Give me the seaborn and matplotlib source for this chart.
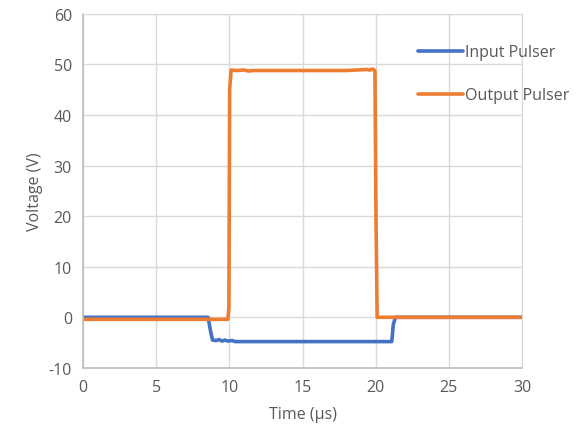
import pandas as pd
import matplotlib.pyplot as plt
import seaborn as sns

# Input pulser trace (time in us, voltage in V)
input_time = [0.0, 2.0, 5.0, 8.55, 8.7, 8.85, 9.1, 9.3, 9.5, 9.7, 9.9, 10.2, 10.4, 12.0, 15.0, 18.0, 21.1, 21.2, 21.35, 25.0, 30.0]
input_volt = [0.0, 0.0, 0.0, 0.0, -2.5, -4.5, -4.6, -4.4, -4.7, -4.5, -4.7, -4.6, -4.8, -4.8, -4.8, -4.8, -4.8, -1.5, 0.0, 0.0, 0.0]

# Output pulser trace
output_time = [0.0, 3.0, 6.0, 9.9, 9.97, 10.02, 10.12, 10.5, 11.0, 11.3, 11.6, 12.0, 15.0, 18.0, 19.4, 19.6, 19.8, 19.95, 20.02, 20.1, 25.0, 30.0]
output_volt = [-0.4, -0.4, -0.4, -0.4, 2.0, 45.0, 48.9, 48.8, 48.9, 48.7, 48.8, 48.8, 48.8, 48.8, 49.0, 48.9, 49.1, 48.7, 20.0, 0.0, 0.0, 0.0]

df = pd.concat([
    pd.DataFrame({"Time": input_time, "Voltage": input_volt, "series": "Input Pulser"}),
    pd.DataFrame({"Time": output_time, "Voltage": output_volt, "series": "Output Pulser"}),
], ignore_index=True)

sns.set_style("white")
plt.rcParams["font.family"] = ["Open Sans", "DejaVu Sans"]
plt.rcParams["axes.unicode_minus"] = False

fig = plt.figure(figsize=(5.87, 4.35), dpi=100)
ax = fig.add_axes([0.1414, 0.152, 0.7479, 0.8138])

sns.lineplot(data=df, x="Time", y="Voltage", hue="series", estimator=None, sort=False,
             palette={"Input Pulser": "#4472C4", "Output Pulser": "#ED7D31"},
             linewidth=2.6, ax=ax)

ax.set_xlim(0, 30)
ax.set_ylim(-10, 60)
ax.set_xticks(range(0, 31, 5))
ax.set_yticks(range(-10, 61, 10))
ax.grid(True, color="#D9D9D9", linewidth=1)
ax.set_axisbelow(True)
for side in ["top", "right"]:
    ax.spines[side].set_color("#D9D9D9")
for side in ["left", "bottom"]:
    ax.spines[side].set_color("#BFBFBF")
    ax.spines[side].set_linewidth(1.2)

fs = 11.5
ax.tick_params(axis="y", length=5, color="#BFBFBF", labelsize=fs, labelcolor="#595959", pad=3)
ax.tick_params(axis="x", length=0, labelsize=fs, labelcolor="#595959", pad=8)
ax.set_xlabel("Time (µs)", fontsize=fs, color="#595959", labelpad=8)
ax.set_ylabel("Voltage (V)", fontsize=fs, color="#595959", labelpad=4)

leg = ax.legend(loc="upper left", bbox_to_anchor=(0.73, 0.955), frameon=False,
                fontsize=fs, handlelength=2.8, handletextpad=0.15, labelspacing=1.7)
for t in leg.get_texts():
    t.set_color("#595959")
for h in leg.get_lines():
    h.set_linewidth(2.6)

plt.savefig("out.png", dpi=100)
plt.close()
